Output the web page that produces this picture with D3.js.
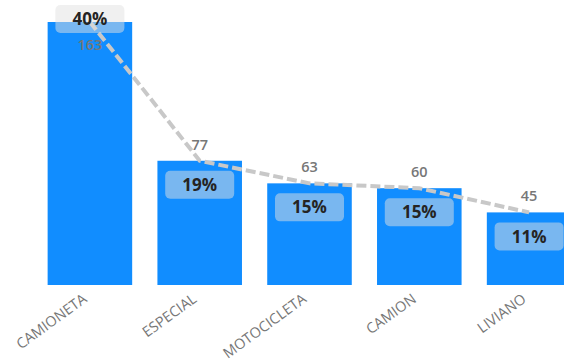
<!DOCTYPE html>
<html>
<head>
<meta charset="utf-8">
<script src="https://cdn.jsdelivr.net/npm/d3@7"></script>
<style>
  html, body { margin: 0; padding: 0; background: #fff; overflow: hidden; }
  svg { display: block; font-family: "Open Sans", "Noto Sans", sans-serif; }
</style>
</head>
<body>
<svg id="chart" width="564" height="363"></svg>
<script>
// Vehicle types and their counts
const categories = ["CAMIONETA", "ESPECIAL", "MOTOCICLETA", "CAMION", "LIVIANO"];
const counts = [163, 77, 63, 60, 45];

const total = d3.sum(counts);
const shares = counts.map(v => v / total);

const svg = d3.select("#chart");
const W = 564, H = 363;
const baseY = 285, topY = 22;

const x = d3.scaleBand()
  .domain(categories)
  .range([35, 584])
  .paddingInner(0.23)
  .paddingOuter(0.115);

const y = d3.scaleLinear().domain([0, d3.max(counts)]).range([baseY, topY]);
const yPct = d3.scaleLinear().domain([0, d3.max(shares)]).range([baseY, topY]);

const data = categories.map((c, i) => ({ c, v: counts[i], p: shares[i] }));
const cx = d => x(d.c) + x.bandwidth() / 2;

// Bars
svg.append("g").selectAll("rect")
  .data(data).join("rect")
  .attr("x", d => x(d.c))
  .attr("y", d => y(d.v))
  .attr("width", x.bandwidth())
  .attr("height", d => baseY - y(d.v))
  .attr("fill", "#118DFF");

// Category axis (rotated labels, no line or ticks)
const axis = svg.append("g")
  .attr("transform", `translate(0,${baseY})`)
  .call(d3.axisBottom(x).tickSize(0).tickPadding(0));
axis.select(".domain").remove();
axis.selectAll("text")
  .attr("font-family", "Open Sans, sans-serif")
  .attr("font-size", 14.5)
  .attr("fill", "#777")
  .attr("text-anchor", "end")
  .attr("dy", 0)
  .attr("transform", "translate(-2,16) rotate(-36)");

// Dashed share line
const line = d3.line().x(cx).y(d => yPct(d.p));
svg.append("path")
  .datum(data)
  .attr("d", line)
  .attr("fill", "none")
  .attr("stroke", "#c8c8c8")
  .attr("stroke-width", 4)
  .attr("stroke-dasharray", "10,4");

// Count labels: above the bar, or inside when there is no room
const fitsAbove = d => y(d.v) - 28 > 0;
svg.append("g").selectAll("text")
  .data(data).join("text")
  .attr("x", cx)
  .attr("y", d => fitsAbove(d) ? y(d.v) - 11 : y(d.v) + 28)
  .attr("text-anchor", "middle")
  .attr("font-size", 14.5)
  .attr("font-weight", 600)
  .attr("fill", "#777")
  .text(d => d.v);

// Share labels in rounded boxes
const boxW = 69, boxH = 28;
const boxTop = d => fitsAbove(d) ? yPct(d.p) + 10 : 5;
const pctG = svg.append("g");
pctG.selectAll("rect")
  .data(data).join("rect")
  .attr("x", d => cx(d) - boxW / 2)
  .attr("y", boxTop)
  .attr("width", boxW)
  .attr("height", boxH)
  .attr("rx", 5)
  .attr("fill", "rgb(225,225,225)")
  .attr("fill-opacity", 0.5);
pctG.selectAll("text")
  .data(data).join("text")
  .attr("x", cx)
  .attr("y", d => boxTop(d) + boxH / 2)
  .attr("dy", "0.36em")
  .attr("text-anchor", "middle")
  .attr("font-size", 17)
  .attr("font-weight", 700)
  .attr("fill", "#252423")
  .text(d => d3.format(".0%")(d.p));
</script>
</body>
</html>
